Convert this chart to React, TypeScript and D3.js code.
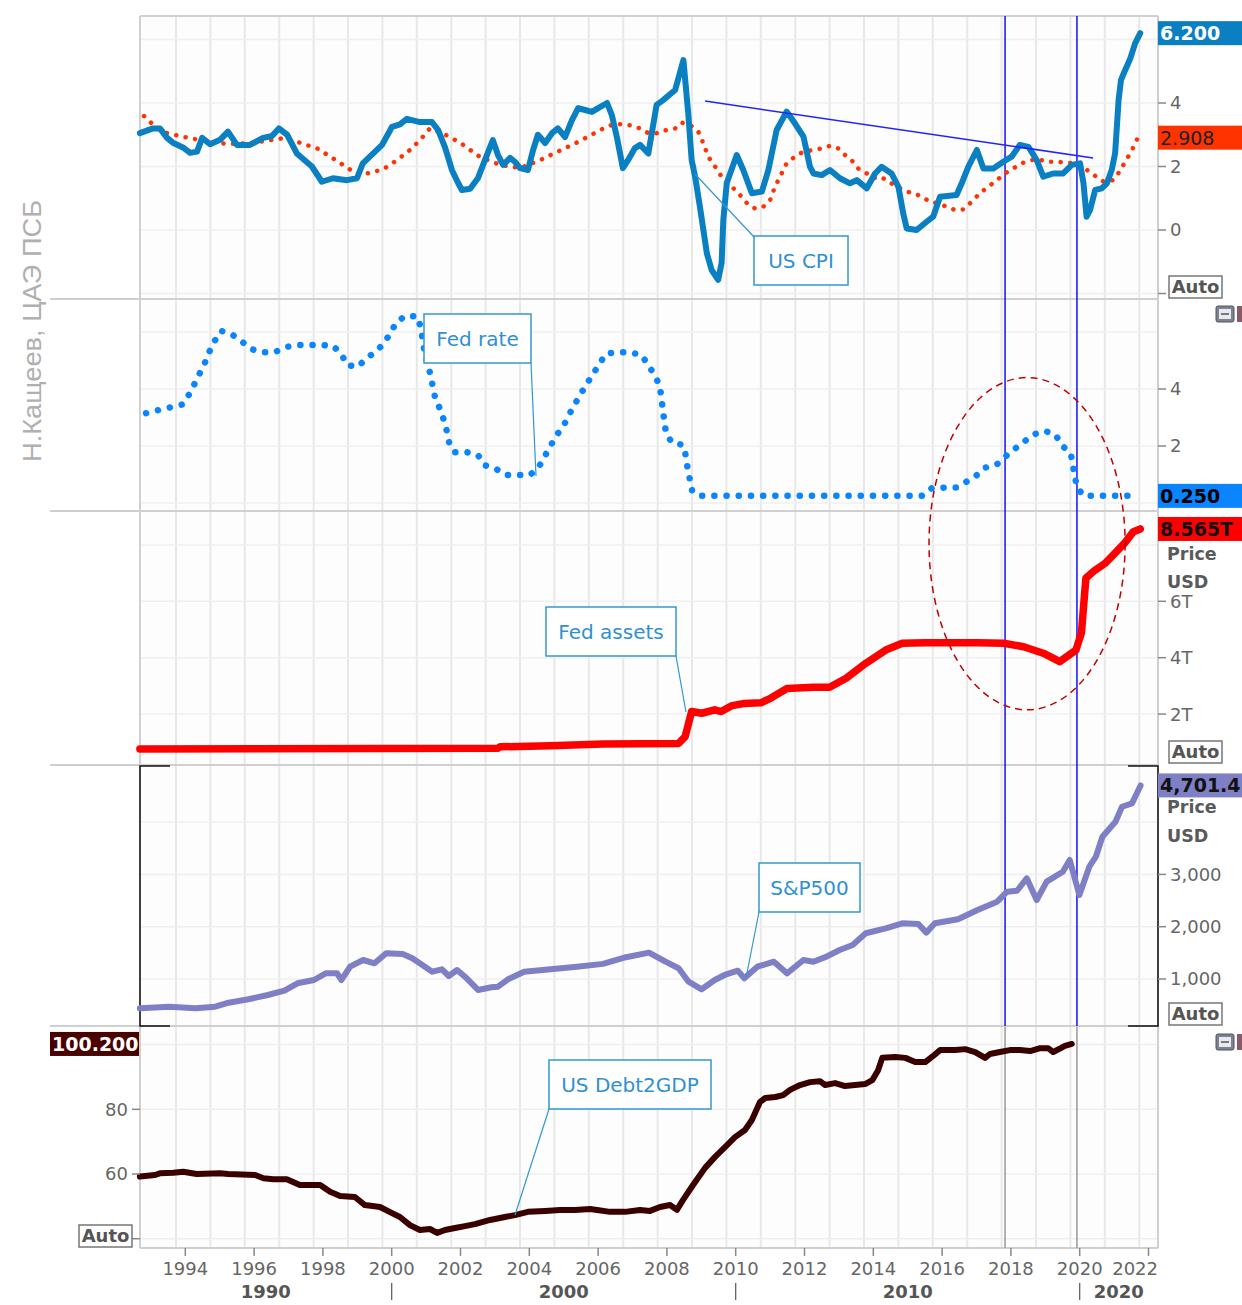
import React from "react";
import * as d3 from "d3";

// ---------------- DATA ----------------
const cpiYears = [1992.68, 1993.06, 1993.26, 1993.47, 1993.64, 1993.93, 1994.14, 1994.34, 1994.49, 1994.72, 1995.01, 1995.24, 1995.5, 1995.88, 1996.26, 1996.52, 1996.72, 1996.96, 1997.25, 1997.68, 1997.97, 1998.29, 1998.7, 1998.99, 1999.16, 1999.72, 2000.01, 2000.24, 2000.44, 2000.82, 2001.17, 2001.35, 2001.55, 2001.75, 2001.93, 2002.04, 2002.28, 2002.51, 2002.71, 2002.94, 2003.09, 2003.24, 2003.44, 2003.58, 2003.73, 2003.96, 2004.11, 2004.25, 2004.46, 2004.66, 2004.83, 2005.04, 2005.24, 2005.42, 2005.62, 2005.82, 2006.0, 2006.26, 2006.4, 2006.55, 2006.72, 2006.87, 2007.07, 2007.22, 2007.46, 2007.7, 2007.89, 2008.24, 2008.48, 2008.62, 2008.72, 2008.82, 2008.96, 2009.16, 2009.3, 2009.49, 2009.59, 2009.64, 2009.74, 2010.03, 2010.22, 2010.47, 2010.76, 2010.95, 2011.19, 2011.48, 2011.72, 2011.97, 2012.16, 2012.26, 2012.5, 2012.74, 2013.03, 2013.32, 2013.52, 2013.81, 2014.05, 2014.24, 2014.53, 2014.73, 2014.87, 2014.97, 2015.26, 2015.55, 2015.74, 2015.94, 2016.42, 2016.57, 2016.76, 2017.01, 2017.2, 2017.49, 2017.78, 2018.02, 2018.26, 2018.51, 2018.75, 2018.94, 2019.23, 2019.52, 2019.77, 2020.01, 2020.11, 2020.2, 2020.3, 2020.45, 2020.64, 2020.79, 2020.93, 2021.03, 2021.08, 2021.13, 2021.2, 2021.26, 2021.47, 2021.61, 2021.76];
const cpiValues = [3.05, 3.2, 3.2, 2.9, 2.75, 2.6, 2.43, 2.47, 2.9, 2.7, 2.84, 3.1, 2.68, 2.68, 2.9, 2.96, 3.2, 3.0, 2.4, 2.0, 1.52, 1.63, 1.57, 1.63, 2.1, 2.68, 3.25, 3.33, 3.5, 3.4, 3.4, 3.15, 2.6, 1.89, 1.48, 1.26, 1.3, 1.64, 2.2, 2.83, 2.36, 2.05, 2.27, 2.15, 1.95, 1.89, 2.52, 3.0, 2.74, 3.05, 3.2, 2.93, 3.46, 3.84, 3.78, 3.72, 3.84, 4.0, 3.62, 2.9, 1.95, 2.2, 2.58, 2.68, 2.41, 3.94, 4.09, 4.41, 5.35, 3.68, 2.2, 1.68, 0.73, -0.73, -1.26, -1.57, -1.04, 0.31, 1.48, 2.36, 1.89, 1.16, 1.21, 1.89, 3.15, 3.73, 3.36, 2.94, 1.99, 1.78, 1.73, 1.89, 1.63, 1.47, 1.57, 1.31, 1.78, 1.99, 1.78, 1.36, 0.52, 0.05, 0.0, 0.26, 0.42, 1.05, 1.1, 1.47, 1.99, 2.52, 1.94, 1.94, 2.15, 2.31, 2.68, 2.62, 2.2, 1.68, 1.78, 1.78, 2.05, 2.1, 1.47, 0.42, 0.63, 1.26, 1.31, 1.47, 1.89, 2.42, 3.25, 4.09, 4.72, 4.88, 5.4, 5.88, 6.2];

const cpiTrendYears = [1992.8, 1992.97, 1993.18, 1993.47, 1993.93, 1994.43, 1995.01, 1995.5, 1995.79, 1996.37, 1996.84, 1997.33, 1997.83, 1998.29, 1998.73, 1998.99, 1999.28, 1999.75, 2000.15, 2000.53, 2000.82, 2001.11, 2001.56, 2001.99, 2002.57, 2003.15, 2003.73, 2004.31, 2004.89, 2005.47, 2006.06, 2006.49, 2006.93, 2007.22, 2007.46, 2007.7, 2007.99, 2008.24, 2008.43, 2008.67, 2008.91, 2009.06, 2009.2, 2009.4, 2009.59, 2009.78, 2010.08, 2010.37, 2010.56, 2010.8, 2011.0, 2011.14, 2011.29, 2011.48, 2011.72, 2011.97, 2012.26, 2012.5, 2012.74, 2012.98, 2013.18, 2013.37, 2013.56, 2013.81, 2014.0, 2014.19, 2014.39, 2014.68, 2014.97, 2015.16, 2015.41, 2015.65, 2015.89, 2016.13, 2016.38, 2016.62, 2016.86, 2017.1, 2017.34, 2017.59, 2017.83, 2018.07, 2018.31, 2018.56, 2018.8, 2019.04, 2019.33, 2019.62, 2019.86, 2020.11, 2020.3, 2020.49, 2020.7, 2020.97, 2021.12, 2021.27, 2021.41, 2021.53, 2021.69];
const cpiTrendValues = [3.59, 3.41, 3.2, 3.05, 2.94, 2.83, 2.73, 2.71, 2.73, 2.81, 2.89, 2.75, 2.57, 2.26, 1.94, 1.78, 1.78, 1.91, 2.2, 2.52, 2.83, 3.2, 3.0, 2.75, 2.3, 2.05, 1.95, 2.2, 2.5, 2.8, 3.15, 3.35, 3.3, 3.2, 3.05, 3.05, 3.15, 3.2, 3.38, 3.31, 3.1, 2.73, 2.31, 2.0, 1.68, 1.47, 1.16, 0.79, 0.68, 0.73, 0.94, 1.36, 1.68, 2.1, 2.31, 2.47, 2.52, 2.57, 2.65, 2.57, 2.36, 2.2, 1.94, 1.78, 1.63, 1.68, 1.57, 1.36, 1.21, 1.16, 1.05, 0.89, 0.84, 0.73, 0.63, 0.65, 0.89, 1.16, 1.36, 1.57, 1.78, 1.94, 2.1, 2.2, 2.23, 2.15, 2.15, 2.12, 2.1, 2.0, 1.8, 1.68, 1.52, 1.57, 1.78, 2.05, 2.31, 2.54, 2.908];

const fedRateYears = [1992.86, 1993.22, 1993.58, 1993.93, 1994.1, 1994.26, 1994.42, 1994.57, 1994.7, 1994.85, 1995.04, 1995.35, 1995.63, 1995.92, 1996.23, 1996.6, 1996.88, 1997.22, 1997.58, 1997.94, 1998.29, 1998.54, 1998.7, 1999.02, 1999.24, 1999.53, 1999.78, 1999.97, 2000.15, 2000.41, 2000.75, 2000.85, 2000.91, 2000.96, 2001.06, 2001.13, 2001.2, 2001.27, 2001.42, 2001.53, 2001.61, 2001.68, 2001.84, 2002.2, 2002.51, 2002.69, 2003.0, 2003.31, 2003.66, 2004.02, 2004.28, 2004.44, 2004.62, 2004.8, 2005.01, 2005.16, 2005.32, 2005.49, 2005.68, 2005.87, 2006.04, 2006.25, 2006.6, 2006.93, 2007.26, 2007.47, 2007.65, 2007.79, 2007.84, 2007.88, 2007.93, 2007.97, 2008.14, 2008.46, 2008.56, 2008.6, 2008.67, 2008.74, 2009.01, 2015.41, 2015.7, 2016.06, 2016.4, 2016.69, 2016.99, 2017.25, 2017.57, 2017.83, 2018.1, 2018.38, 2018.67, 2018.99, 2019.3, 2019.49, 2019.74, 2019.8, 2019.86, 2019.93, 2020.13, 2021.61];
const fedRateValues = [3.15, 3.26, 3.36, 3.46, 3.79, 4.16, 4.55, 4.92, 5.31, 5.68, 6.04, 5.92, 5.68, 5.4, 5.29, 5.29, 5.46, 5.54, 5.54, 5.54, 5.52, 5.22, 4.84, 4.78, 5.05, 5.31, 5.6, 5.99, 6.36, 6.57, 6.54, 6.13, 5.66, 5.25, 4.84, 4.47, 4.05, 3.65, 3.26, 2.85, 2.48, 2.06, 1.78, 1.78, 1.68, 1.33, 1.22, 0.98, 0.98, 0.98, 1.27, 1.62, 2.01, 2.39, 2.74, 3.11, 3.46, 3.82, 4.2, 4.55, 4.9, 5.25, 5.29, 5.29, 5.19, 4.82, 4.47, 4.12, 3.71, 3.26, 2.85, 2.48, 2.12, 2.04, 1.62, 1.22, 0.81, 0.4, 0.25, 0.25, 0.52, 0.54, 0.54, 0.73, 0.96, 1.24, 1.33, 1.62, 1.89, 2.15, 2.41, 2.53, 2.39, 2.01, 1.74, 1.33, 0.92, 0.52, 0.25, 0.25];

const fedAssetsYears = [1992.68, 2003.09, 2003.15, 2004.62, 2006.14, 2008.34, 2008.53, 2008.72, 2009.01, 2009.39, 2009.58, 2009.87, 2010.25, 2010.73, 2011.01, 2011.49, 2012.26, 2012.73, 2013.21, 2013.78, 2014.36, 2014.84, 2015.5, 2017.03, 2017.79, 2018.37, 2018.94, 2019.42, 2019.89, 2020.05, 2020.18, 2020.44, 2020.73, 2021.02, 2021.31, 2021.56, 2021.76];
const fedAssetsValues = [0.76, 0.79, 0.84, 0.88, 0.94, 0.96, 1.2, 2.09, 2.03, 2.15, 2.09, 2.29, 2.38, 2.4, 2.56, 2.91, 2.95, 2.95, 3.27, 3.8, 4.27, 4.51, 4.53, 4.53, 4.51, 4.39, 4.16, 3.86, 4.27, 4.88, 6.82, 7.1, 7.34, 7.7, 8.07, 8.47, 8.565];

const spxYears = [1992.68, 1993.54, 1994.3, 1994.87, 1995.26, 1995.83, 1996.4, 1996.88, 1997.26, 1997.74, 1998.08, 1998.41, 1998.54, 1998.79, 1999.17, 1999.5, 1999.84, 2000.32, 2000.6, 2000.89, 2001.18, 2001.46, 2001.66, 2001.9, 2002.13, 2002.51, 2002.9, 2003.09, 2003.38, 2003.85, 2004.62, 2005.38, 2006.14, 2006.81, 2007.48, 2007.96, 2008.34, 2008.63, 2009.01, 2009.39, 2009.68, 2010.06, 2010.25, 2010.63, 2011.11, 2011.49, 2011.97, 2012.26, 2012.64, 2013.02, 2013.4, 2013.78, 2014.36, 2014.84, 2015.31, 2015.54, 2015.79, 2016.46, 2017.03, 2017.6, 2017.89, 2018.18, 2018.46, 2018.75, 2019.04, 2019.51, 2019.71, 2019.99, 2020.28, 2020.47, 2020.66, 2021.04, 2021.23, 2021.52, 2021.77];
const spxValues = [440, 470, 440, 470, 547, 612, 694, 777, 918, 981, 1109, 1109, 981, 1235, 1363, 1300, 1491, 1478, 1396, 1268, 1140, 1185, 1057, 1172, 1044, 790, 841, 853, 994, 1140, 1185, 1235, 1289, 1416, 1504, 1331, 1205, 948, 803, 981, 1077, 1159, 1013, 1235, 1331, 1109, 1363, 1331, 1427, 1555, 1650, 1874, 1969, 2065, 2052, 1887, 2065, 2141, 2319, 2478, 2669, 2688, 2925, 2510, 2861, 3052, 3275, 2606, 3147, 3338, 3721, 4008, 4294, 4359, 4701.4];

const debtYears = [1992.68, 1993.12, 1993.26, 1993.65, 1993.94, 1994.33, 1995.01, 1995.25, 1996.03, 1996.27, 1996.56, 1996.95, 1997.33, 1997.92, 1998.21, 1998.5, 1998.93, 1999.22, 1999.66, 2000.01, 2000.24, 2000.53, 2000.82, 2001.11, 2001.32, 2001.55, 2001.84, 2002.13, 2002.42, 2002.86, 2003.29, 2003.58, 2003.96, 2004.46, 2004.89, 2005.33, 2005.77, 2005.97, 2006.35, 2006.78, 2007.22, 2007.51, 2007.8, 2008.09, 2008.29, 2008.47, 2008.76, 2009.11, 2009.4, 2009.69, 2009.98, 2010.27, 2010.47, 2010.71, 2010.86, 2011.15, 2011.38, 2011.58, 2011.87, 2012.16, 2012.45, 2012.6, 2012.89, 2013.18, 2013.47, 2013.76, 2013.97, 2014.14, 2014.26, 2014.64, 2014.93, 2015.22, 2015.51, 2015.74, 2015.94, 2016.38, 2016.67, 2016.96, 2017.25, 2017.39, 2017.68, 2017.97, 2018.26, 2018.56, 2018.85, 2019.08, 2019.23, 2019.45, 2019.57, 2019.77];
const debtValues = [59.2, 59.7, 60.2, 60.4, 60.7, 60.0, 60.2, 60.0, 59.7, 58.7, 58.4, 58.4, 56.6, 56.6, 54.5, 53.2, 52.9, 50.4, 49.8, 47.9, 46.7, 44.2, 42.7, 43.0, 41.8, 42.7, 43.3, 43.9, 44.5, 45.8, 46.7, 47.3, 48.3, 48.6, 48.9, 48.9, 49.2, 48.9, 48.3, 48.3, 48.9, 48.6, 49.8, 50.4, 48.9, 52.0, 56.6, 61.9, 65.3, 68.3, 71.4, 73.6, 76.7, 82.3, 83.5, 83.8, 84.4, 86.0, 87.5, 88.4, 88.7, 87.5, 88.1, 87.2, 87.5, 87.8, 89.0, 92.1, 95.9, 96.2, 95.9, 94.6, 94.6, 96.5, 98.3, 98.3, 98.6, 97.7, 95.9, 97.1, 97.7, 98.3, 98.3, 98.0, 98.9, 98.9, 97.7, 98.9, 99.6, 100.2];

const xTickYears = [1994, 1996, 1998, 2000, 2002, 2004, 2006, 2008, 2010, 2012, 2014, 2016, 2018, 2020, 2022];
const decadeLabels = ["1990", "2000", "2010", "2020"];
const decadeStarts = [1990, 2000, 2010, 2020];
const cpiTicks = [4, 2, 0];
const fedRateTicks = [4, 2];
const assetTicks = [6, 4, 2];
const assetTickLabels = ["6T", "4T", "2T"];
const spxTicks = [3000, 2000, 1000];
const debtTicks = [80, 60];
const markerYears = [2017.83, 2019.92];

// ---------------- LAYOUT ----------------
const W = 1242;
const H = 1305;
const X0 = 140;
const X1 = 1158;
const FONT = "'DejaVu Sans', Verdana, sans-serif";

const P1 = [16, 299];
const P2 = [300, 511];
const P3 = [511, 765];
const P4 = [766, 1026];
const P5 = [1027, 1248];

const zip = (a: number[], b: number[]) => a.map((v, i) => [v, b[i]] as [number, number]);

export default function App() {
  const x = d3.scaleLinear().domain([1992.683, 2022.276]).range([X0, X1]);
  const yCpi = d3.scaleLinear().domain([-2.173, 6.74]).range([P1[1], P1[0]]);
  const yRate = d3.scaleLinear().domain([-0.281, 7.123]).range([P2[1], P2[0]]);
  const yAssets = d3.scaleLinear().domain([0.195, 9.202]).range([P3[1], P3[0]]);
  const ySpx = d3.scaleLinear().domain([101, 5073]).range([P4[1], P4[0]]);
  const yDebt = d3.scaleLinear().domain([37.13, 105.44]).range([P5[1], P5[0]]);

  const mk = (ys: d3.ScaleLinear<number, number>) =>
    d3.line<[number, number]>().x((d) => x(d[0])).y((d) => ys(d[1]));

  const gridYears = d3.range(1993, 2022).map((v) => v + 0.73);

  const panels = [
    { r: P1, ticks: [6, 4, 2, 0, -2], s: yCpi },
    { r: P2, ticks: [6, 4, 2, 0], s: yRate },
    { r: P3, ticks: [8, 6, 4, 2], s: yAssets },
    { r: P4, ticks: [4000, 3000, 2000, 1000], s: ySpx },
    { r: P5, ticks: [100, 80, 60, 40], s: yDebt },
  ];

  const tickLabelStyle = { fontFamily: FONT, fontSize: 18, fill: "#666" } as const;

  const rightTicks = (ys: d3.ScaleLinear<number, number>, vals: number[], labels?: string[]) =>
    vals.map((v, i) => (
      <g key={"rt" + v}>
        <line x1={X1} x2={X1 + 8} y1={ys(v)} y2={ys(v)} stroke="#888" strokeWidth={1.5} />
        <text x={1170} y={ys(v)} dy="0.36em" {...tickLabelStyle}>
          {labels ? labels[i] : d3.format(",")(v)}
        </text>
      </g>
    ));

  const valueBox = (y: number, txt: string, fill: string, color: string, bold = true, xL = X1, w = 84) => (
    <g>
      <rect x={xL} y={y - 12} width={w} height={24} fill={fill} />
      <text x={xL + 2} y={y} dy="0.36em" fontFamily={FONT} fontSize={19} fontWeight={bold ? "bold" : "normal"} fill={color}>
        {txt}
      </text>
    </g>
  );

  const autoBox = (xL: number, yT: number) => (
    <g>
      <rect x={xL} y={yT} width={53} height={22} fill="#fff" stroke="#777" strokeWidth={1.5} />
      <text x={xL + 26.5} y={yT + 11} dy="0.36em" textAnchor="middle" fontFamily={FONT} fontSize={18} fontWeight="bold" fill="#555">
        Auto
      </text>
    </g>
  );

  const callout = (bx: number, by: number, bw: number, label: string, lx1: number, ly1: number, lx2: number, ly2: number) => (
    <g>
      <line x1={lx1} y1={ly1} x2={lx2} y2={ly2} stroke="#3399cc" strokeWidth={1.2} />
      <rect x={bx} y={by} width={bw} height={49} fill="#fff" stroke="#3399cc" strokeWidth={1.5} />
      <text x={bx + bw / 2} y={by + 24.5} dy="0.36em" textAnchor="middle" fontFamily={FONT} fontSize={20} fill="#2f90d2">
        {label}
      </text>
    </g>
  );

  const icon = (xL: number, yT: number) => (
    <g>
      <rect x={xL} y={yT} width={18} height={16} rx={2} fill="#7b8494" stroke="#555" strokeWidth={1} />
      <rect x={xL + 3} y={yT + 3} width={12} height={10} fill="#e8e8ee" />
      <line x1={xL + 5} x2={xL + 13} y1={yT + 8} y2={yT + 8} stroke="#555" strokeWidth={1.5} />
      <rect x={xL + 21} y={yT} width={6} height={16} fill="#8a5a66" />
    </g>
  );

  // ellipse annotation
  const eCx = x(2018.47);
  const eRx = x(2018.47 + 2.85) - eCx;
  const eTop = yRate(4.4);
  const eBot = yAssets(2.15);

  return (
    <div style={{ position: "absolute", left: 0, top: 0, width: W, height: H, overflow: "hidden" }}>
      <svg width={W} height={H} style={{ display: "block", background: "#fff" }}>
        {/* plot backgrounds */}
        {panels.map((p, i) => (
          <rect key={"bg" + i} x={X0} y={p.r[0]} width={X1 - X0} height={p.r[1] - p.r[0]} fill="#fdfdfd" />
        ))}
        {/* vertical grid */}
        {panels.map((p, i) =>
          gridYears.map((g) => (
            <line key={"vg" + i + g} x1={x(g)} x2={x(g)} y1={p.r[0]} y2={p.r[1]} stroke="#e8e8e8" strokeWidth={2} />
          ))
        )}
        {/* horizontal grid */}
        {panels.map((p, i) =>
          p.ticks.map((t) => (
            <line key={"hg" + i + t} x1={X0} x2={X1} y1={p.s(t)} y2={p.s(t)} stroke="#efefef" strokeWidth={1.5} />
          ))
        )}

        {/* frame */}
        <line x1={X0} x2={X1} y1={P1[0]} y2={P1[0]} stroke="#d0d0d0" strokeWidth={2} />
        {[P1[1], P2[1], P3[1], P4[1]].map((yy) => (
          <line key={"sep" + yy} x1={50} x2={X1} y1={yy} y2={yy} stroke="#cfcfcf" strokeWidth={2} />
        ))}
        <line x1={X0} x2={X0} y1={P1[0]} y2={P5[1]} stroke="#d0d0d0" strokeWidth={2} />
        <line x1={X1} x2={X1} y1={P1[0]} y2={P5[1]} stroke="#d0d0d0" strokeWidth={2} />
        <line x1={X0} x2={X1} y1={P5[1]} y2={P5[1]} stroke="#cfcfcf" strokeWidth={2} />

        {/* panel 4 selection brackets */}
        <g stroke="#111" strokeWidth={1.5} fill="none">
          <path d={`M${X0 + 30},${P4[0]}H${X0}V${P4[1]}H${X0 + 30}`} />
          <path d={`M${X1 - 30},${P4[0]}H${X1}V${P4[1]}H${X1 - 30}`} />
        </g>

        {/* marker vertical lines */}
        {markerYears.map((m) => (
          <g key={"m" + m}>
            <line x1={x(m)} x2={x(m)} y1={P1[0]} y2={P4[1]} stroke="#1010ff" strokeWidth={1.5} />
            <line x1={x(m)} x2={x(m)} y1={P5[0]} y2={P5[1]} stroke="#999" strokeWidth={1.5} />
          </g>
        ))}

        {/* CPI trend (red dotted) */}
        <path d={mk(yCpi)(zip(cpiTrendYears, cpiTrendValues)) || ""} fill="none" stroke="#ff3300" strokeWidth={4.5} strokeLinecap="round" strokeDasharray="0.1 9.5" />
        {/* CPI */}
        <path d={mk(yCpi)(zip(cpiYears, cpiValues)) || ""} fill="none" stroke="#0a80c2" strokeWidth={6} strokeLinejoin="round" strokeLinecap="round" />
        {/* trend line */}
        <line x1={x(2009.11)} y1={yCpi(4.06)} x2={x(2020.39)} y2={yCpi(2.27)} stroke="#2222ff" strokeWidth={1.5} />

        {/* Fed rate */}
        <path d={mk(yRate)(zip(fedRateYears, fedRateValues)) || ""} fill="none" stroke="#0a84ff" strokeWidth={6.5} strokeLinecap="round" strokeDasharray="0.1 12.1" />

        {/* Fed assets */}
        <path d={mk(yAssets)(zip(fedAssetsYears, fedAssetsValues)) || ""} fill="none" stroke="#ff0000" strokeWidth={7.5} strokeLinejoin="round" strokeLinecap="round" />

        {/* S&P500 */}
        <path d={mk(ySpx)(zip(spxYears, spxValues)) || ""} fill="none" stroke="#7f7fc6" strokeWidth={6} strokeLinejoin="round" strokeLinecap="round" />

        {/* Debt2GDP */}
        <path d={mk(yDebt)(zip(debtYears, debtValues)) || ""} fill="none" stroke="#3a0000" strokeWidth={6} strokeLinejoin="round" strokeLinecap="round" />

        {/* ellipse */}
        <ellipse cx={eCx} cy={(eTop + eBot) / 2} rx={eRx} ry={(eBot - eTop) / 2} fill="none" stroke="#c00000" strokeWidth={1.5} strokeDasharray="7 5" />

        {/* callouts */}
        {callout(754, 236, 94, "US CPI", 695, 174, 754, 237)}
        {callout(424, 314, 107, "Fed rate", 531, 363, 536, 476)}
        {callout(546, 607, 130, "Fed assets", 676, 656, 686, 712)}
        {callout(759, 863, 101, "S&P500", 759, 912, 746, 978)}
        {callout(549, 1060, 162, "US Debt2GDP", 549, 1109, 515, 1215)}

        {/* right axes */}
        {rightTicks(yCpi, cpiTicks)}
        <line x1={X1} x2={X1 + 8} y1={yCpi(-2)} y2={yCpi(-2)} stroke="#888" strokeWidth={1.5} />
        {rightTicks(yRate, fedRateTicks)}
        {rightTicks(yAssets, assetTicks, assetTickLabels)}
        {rightTicks(ySpx, spxTicks)}

        {/* left axis panel 5 */}
        {debtTicks.map((t) => (
          <g key={"dt" + t}>
            <line x1={X0 - 8} x2={X0} y1={yDebt(t)} y2={yDebt(t)} stroke="#888" strokeWidth={1.5} />
            <text x={128} y={yDebt(t)} dy="0.36em" textAnchor="end" {...tickLabelStyle}>
              {t}
            </text>
          </g>
        ))}
        <line x1={X0 - 8} x2={X0} y1={yDebt(40)} y2={yDebt(40)} stroke="#888" strokeWidth={1.5} />

        {/* value boxes */}
        {valueBox(yCpi(6.2), "6.200", "#0a80c2", "#fff")}
        {valueBox(yCpi(2.908), "2.908", "#ff3300", "#222", false)}
        {valueBox(yRate(0.25), "0.250", "#0a84ff", "#000")}
        {valueBox(yAssets(8.565), "8.565T", "#ff0000", "#111")}
        {valueBox(ySpx(4701.4), "4,701.4", "#7f7fc6", "#111")}
        {valueBox(yDebt(100.2), "100.200", "#4a0000", "#fff", true, 50, 89)}

        {/* Price / USD labels */}
        {[
          [560, "Price"],
          [588, "USD"],
          [813, "Price"],
          [842, "USD"],
        ].map(([yy, t]) => (
          <text key={"pu" + yy} x={1167} y={yy as number} fontFamily={FONT} fontSize={17.5} fontWeight="bold" fill="#5a5a5a">
            {t}
          </text>
        ))}

        {autoBox(1169, 276)}
        {autoBox(1169, 741)}
        {autoBox(1169, 1003)}
        {autoBox(79, 1225)}

        {icon(1216, 306)}
        {icon(1216, 1034)}

        {/* x axis */}
        {xTickYears.map((yv) => (
          <g key={"xt" + yv}>
            <line x1={x(yv)} x2={x(yv)} y1={P5[1]} y2={P5[1] + 8} stroke="#888" strokeWidth={1.5} />
            <text
              x={yv === 2022 ? X1 : x(yv)}
              y={1275}
              textAnchor={yv === 2022 ? "end" : "middle"}
              {...tickLabelStyle}
            >
              {yv}
            </text>
          </g>
        ))}
        {decadeStarts.map((d, i) => {
          const a = Math.max(x(d), X0);
          const b = Math.min(x(d + 10), X1);
          return (
            <g key={"dec" + d}>
              {x(d) > X0 && <line x1={x(d)} x2={x(d)} y1={1283} y2={1300} stroke="#555" strokeWidth={1.2} />}
              <text x={(a + b) / 2} y={1298} textAnchor="middle" fontFamily={FONT} fontSize={18} fontWeight="bold" fill="#555">
                {decadeLabels[i]}
              </text>
            </g>
          );
        })}

        {/* author label */}
        <text
          x={41}
          y={331}
          transform="rotate(-90 41 331)"
          textAnchor="middle"
          fontFamily="'Liberation Sans', Arial, sans-serif"
          fontSize={26}
          fill="#b0b0b0"
          textLength={262}
          lengthAdjust="spacingAndGlyphs"
        >
          Н.Кащеев, ЦАЭ ПСБ
        </text>
      </svg>
    </div>
  );
}
